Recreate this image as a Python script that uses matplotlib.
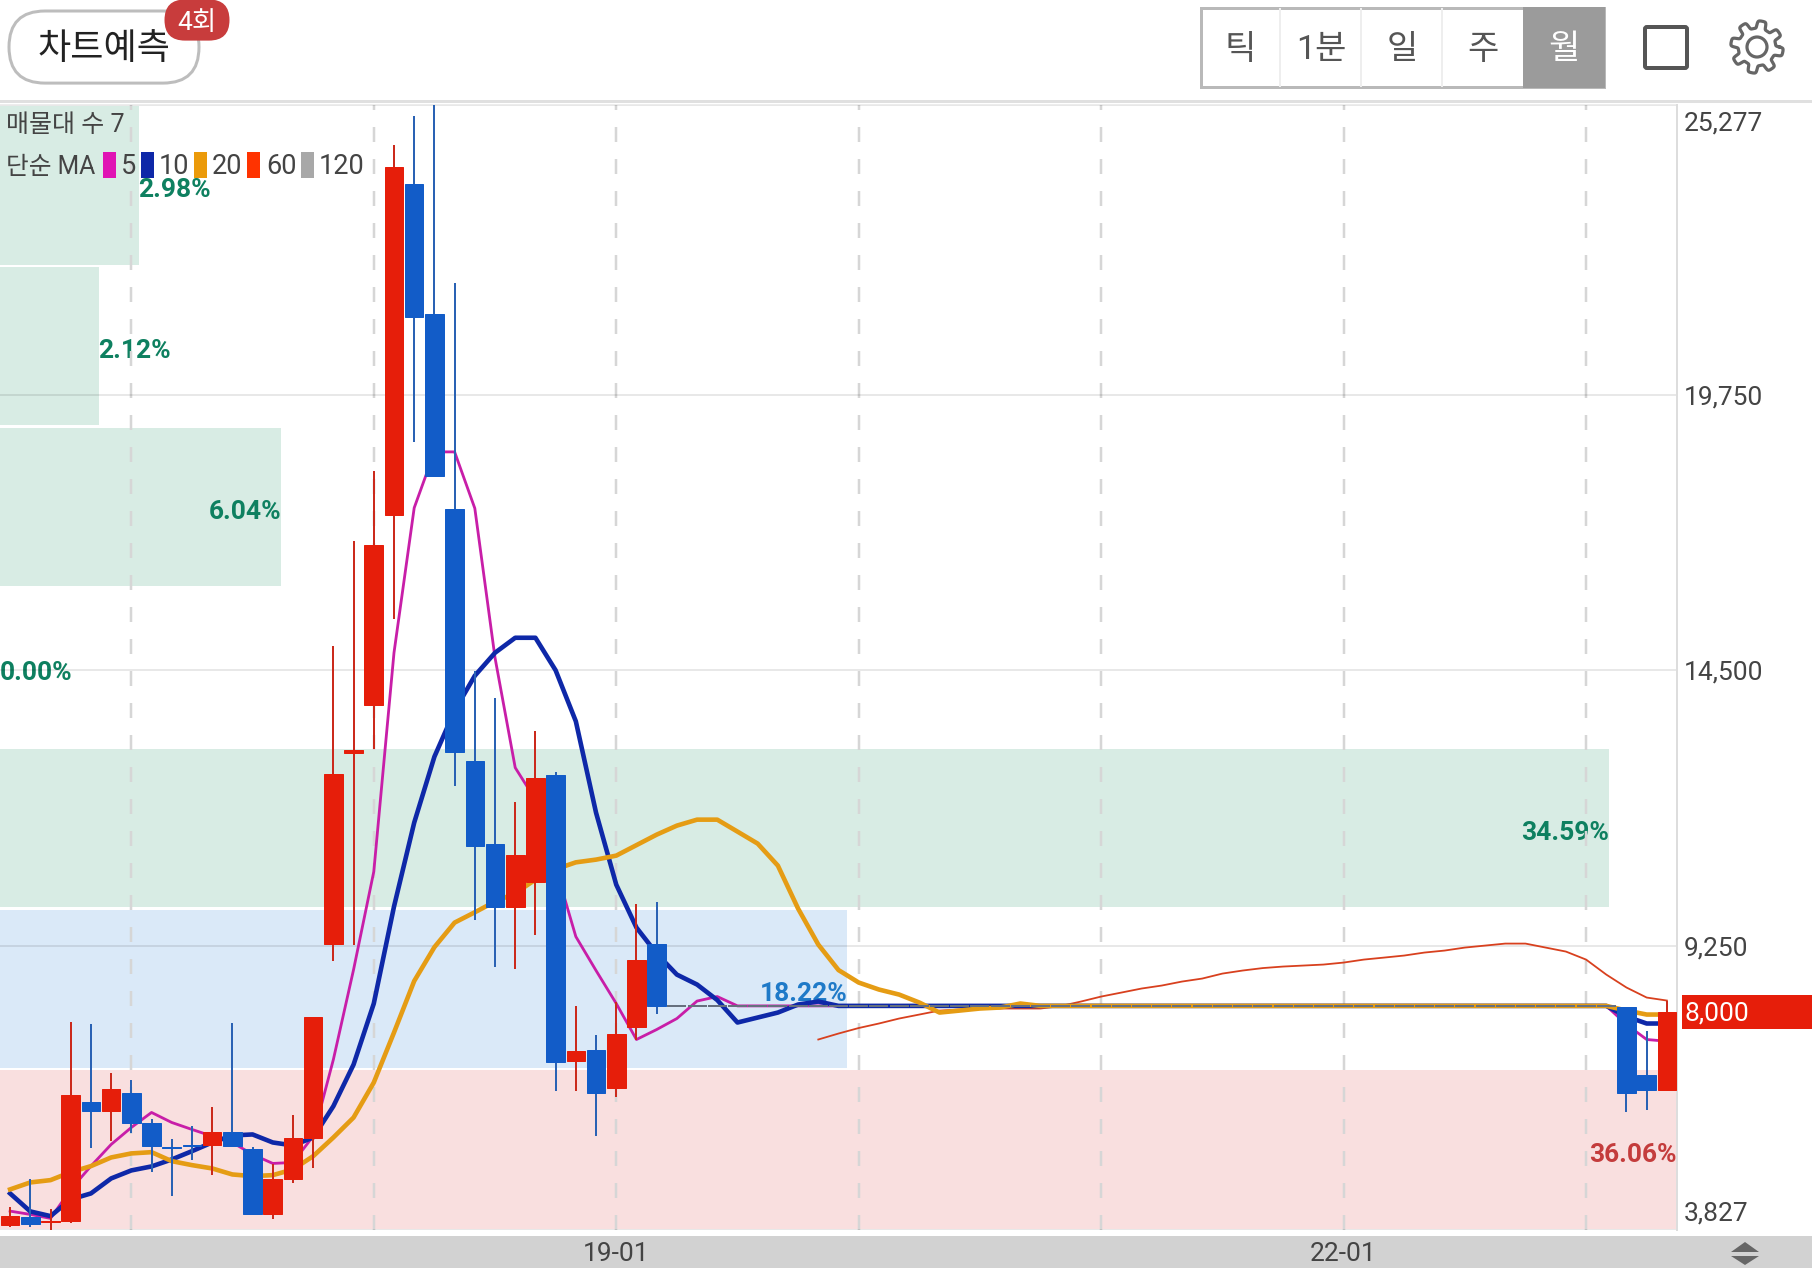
import numpy as np
import matplotlib
matplotlib.use("Agg")
import matplotlib.pyplot as plt
from matplotlib.patches import Rectangle, FancyBboxPatch, Polygon, Circle
from matplotlib.transforms import ScaledTranslation

plt.rcParams['font.family'] = ['Roboto', 'Noto Sans CJK KR', 'DejaVu Sans']

# monthly candles, index 0 = 2016-07, 30 = 2019-01, 66 = 2022-01
opens = [3915, 4073, 3977, 3991, 6264, 6093, 6443, 5872, 5414, 5439, 5439, 5687, 5363, 4137, 4791, 5586,
         9288, 12928, 13842, 17463, 23770, 21293, 17577, 12775, 11194, 9993, 10470, 12508, 7040, 7268,
         6544, 7707, 9288] + [8100] * 47 + [8088, 6773, 6487]
highs = [4271, 4791, 4233, 7788, 7758, 6824, 6678, 5934, 5567, 5807, 6176, 7777, 5401, 5077, 6016, 7884,
         14967, 16967, 18301, 24513, 25066, 25277, 21883, 14490, 13966, 11994, 13347, 12556, 8107, 7554,
         8183, 10050, 10088] + [8100] * 47 + [8088, 7630, 8202]
lows = [3890, 3890, 3830, 3953, 5395, 5521, 5681, 4930, 4473, 5159, 4881, 5420, 4118, 4042, 4715, 5014,
        8964, 9269, 13004, 15481, 18854, 18206, 12299, 9745, 8850, 8812, 9460, 6468, 6468, 5610,
        6354, 7459, 7954] + [8100] * 47 + [6068, 6106, 6487]
closes = [4092, 3934, 3997, 6392, 6093, 6506, 5872, 5420, 5395, 5420, 5687, 5420, 4137, 4791, 5578, 7884,
          12527, 12985, 16891, 24094, 21236, 18206, 12935, 11155, 9993, 10984, 12451, 7021, 7249, 6430,
          7573, 8983, 8107] + [8100] * 47 + [6430, 6487, 7992]

ma5 = [4187, 4124, 4048, 4601, 5045, 5458, 5782, 6068, 5877, 5744, 5616, 5496, 5268, 5096, 5115, 5616,
       7078, 8793, 10660, 14833, 17596, 18663, 18663, 17587, 14738, 12642, 12032, 10736, 9421, 8774,
       8145, 7459, 7649, 7859, 8192, 8278] + [8100] * 44 + [7745, 7459, 7426]
ma10 = [4524, 4181, 4092, 4410, 4524, 4810, 4963, 5039, 5172, 5330, 5496, 5630, 5649, 5496, 5439, 5591,
        6188, 6982, 8145, 9993, 11594, 12851, 13728, 14395, 14833, 15119, 15119, 14498, 13526, 11784,
        10412, 9593, 9098, 8697, 8507, 8211, 7783, 7878, 7973, 8126, 8183] + [8100] * 39 + [7897, 7764, 7764]
ma20 = [4601, 4734, 4778, 4930, 5045, 5210, 5287, 5311, 5140, 5064, 5001, 4886, 4854, 4873, 4982, 5235,
        5591, 5972, 6639, 7592, 8574, 9220, 9688, 9885, 10088, 10247, 10508, 10706, 10837, 10889,
        10965, 11165, 11365, 11537, 11651, 11651, 11423, 11194, 10774, 9955, 9269, 8783, 8545, 8412,
        8316, 8164, 7973, 8011, 8050, 8069, 8145, 8100] + [8100] * 28 + [8011, 7935, 7935]
ma60 = [7459, 7573, 7678, 7764, 7859, 7935, 8011, 8030, 8050, 8050, 8050, 8050, 8097, 8183, 8278, 8354,
        8431, 8488, 8564, 8621, 8716, 8774, 8821, 8850, 8869, 8888, 8926, 8983, 9021, 9060, 9117, 9155,
        9212, 9250, 9288, 9288, 9212, 9136, 8983, 8697, 8450, 8259, 8202]
ma60_start = 40

# volume profile, bottom band first
profile_pct = [36.06, 18.22, 34.59, 0.00, 6.04, 2.12, 2.98]
profile_fill = ['#F9DFDF', '#DAE9F8', '#D8ECE4', '#D8ECE4', '#D8ECE4', '#D8ECE4', '#D8ECE4']
profile_text = ['#C43C3C', '#1F7AC8', '#0E8060', '#0E8060', '#0E8060', '#0E8060', '#0E8060']

price_ticks = [3827, 9250, 14500, 19750, 25277]
price_labels = ['3,827', '9,250', '14,500', '19,750', '25,277']
year_ticks = [6, 18, 30, 42, 54, 66, 78]
year_labels = ['', '', '19-01', '', '', '22-01', '']

legend_names = ['5', '10', '20', '60', '120']
legend_colors = ['#E014B4', '#0E28A8', '#EB9A0A', '#FF3300', '#A8A8A8']
tabs = ['틱', '1분', '일', '주', '월']

PX = 0.72  # one pixel in points at dpi 100
UP = '#E61E0A'
DOWN = '#125CC8'
W, H = 1812, 1268

fig = plt.figure(figsize=(W / 100, H / 100), dpi=100, facecolor='white')


def pixel_axes(z):
    a = fig.add_axes([0, 0, 1, 1], zorder=z)
    a.set_xlim(0, W)
    a.set_ylim(H, 0)
    a.axis('off')
    return a


def nudge(label, dy_px):
    # move a tick label up or down by some pixels
    label.set_transform(label.get_transform() + ScaledTranslation(0, dy_px / 100, fig.dpi_scale_trans))


bg = pixel_axes(0)
fg = pixel_axes(5)

# chart area
rect = [0, (H - 1230) / H, 1677 / W, 1125 / H]
zones = fig.add_axes(rect, zorder=1)
ax = fig.add_axes(rect, zorder=2, sharey=zones)
ax.patch.set_visible(False)

# volume profile
edges = np.linspace(price_ticks[0], price_ticks[-1], len(profile_pct) + 1)
band = edges[1] - edges[0]
centers = edges[:-1] + band / 2
zones.barh(centers, profile_pct, height=band * 0.986, color=profile_fill, zorder=1)
zones.set_xlim(0, max(profile_pct))
zones.set_ylim(price_ticks[0], price_ticks[-1])
zones.set_xticks([])
zones.tick_params(left=False, labelleft=False)
for s in zones.spines.values():
    s.set_visible(False)
for c, pct, col in zip(centers, profile_pct, profile_text):
    narrow = pct < 5
    zones.annotate('%.2f%%' % pct, xy=(pct, c), xytext=(0, -5 * PX), textcoords='offset points',
                   color=col, fontsize=19, fontweight='bold',
                   ha='left' if narrow else 'right', va='center', zorder=3)

# moving averages under the candles
xs = np.arange(len(closes))
ax.plot(xs[ma60_start:], ma60, color='#D8401E', lw=1.8 * PX, zorder=3)
ax.plot(xs, ma5, color='#C81EA8', lw=2.8 * PX, zorder=3.1)
ax.plot(xs, ma10, color='#0E28A8', lw=4.6 * PX, zorder=3.2)
ax.plot(xs, ma20, color='#E59C14', lw=4.6 * PX, zorder=3.3)

# candles
for x, o, h, l, c in zip(xs, opens, highs, lows, closes):
    col = UP if c > o else DOWN
    if h == l:
        ax.hlines(o, x - 0.47, x + 0.47, color='#66707E', lw=2 * PX, zorder=4)
        continue
    wick = '#CB2A1C' if c > o else '#2A62B4'
    ax.vlines(x, l, h, color=wick, lw=2 * PX, zorder=4)
    ax.bar(x, abs(c - o), bottom=min(o, c), width=0.92, color=col, edgecolor=col, lw=1 * PX, zorder=5)

ax.set_xlim(-0.5, 82.5)
ax.set_ylim(price_ticks[0], price_ticks[-1])
ax.set_xticks(year_ticks, year_labels)
ax.set_yticks(price_ticks, price_labels)
ax.yaxis.tick_right()
ax.tick_params(axis='both', length=0, labelcolor='#444444')
ax.tick_params(axis='y', pad=7 * PX, labelsize=19)
ax.tick_params(axis='x', pad=12 * PX, labelsize=19)
ax.set_axisbelow(True)
ax.grid(axis='y', color='#000000', alpha=0.11, lw=1.6 * PX)
ax.grid(axis='x', color='#D6D6D6', lw=2.5 * PX, linestyle=(0, (6, 6.8)))
ylab = ax.get_yticklabels()
ylab[0].set_va('bottom')
ylab[-1].set_va('top')
nudge(ylab[0], 4)
nudge(ylab[-1], -7)
for s in ['top', 'left', 'bottom']:
    ax.spines[s].set_visible(False)
ax.spines['right'].set_color('#DDDDDD')
ax.spines['right'].set_linewidth(2 * PX)

# bottom strip and header rules
bg.add_patch(Rectangle((0, 1236), W, H - 1236, color='#D2D2D2', lw=0))
bg.add_patch(Rectangle((0, 100), W, 3, color='#E0E0E0', lw=0))
bg.add_patch(Rectangle((0, 104), 1677, 1.5, color='#EDEDED', lw=0))
bg.add_patch(Polygon([[1731, 1252], [1745, 1242], [1759, 1252]], color='#666666', lw=0))
bg.add_patch(Polygon([[1731, 1256], [1745, 1265], [1759, 1256]], color='#666666', lw=0))

# pill button and badge
fg.add_patch(FancyBboxPatch((9 + 36, 11 + 36), 190 - 72, 0.1, boxstyle='round,pad=36,rounding_size=36',
                            fc='white', ec='#BDBDBD', lw=3 * PX))
fg.text(104, 49, '차트예측', fontsize=26, color='#222222', ha='center', va='center')
fg.add_patch(FancyBboxPatch((165 + 20, 20), 64 - 40, 0.1, boxstyle='round,pad=20.5,rounding_size=20.5',
                            fc='#C83C3C', ec='none'))
fg.text(197, 23, '4회', fontsize=19, color='white', ha='center', va='center')

# period tabs
fg.add_patch(Rectangle((1201, 8), 403, 79, fc='white', ec='#B9B9B9', lw=3 * PX))
fg.add_patch(Rectangle((1523, 7), 82, 81, color='#9B9B9B', lw=0))
for xd in [1280, 1361, 1442]:
    fg.plot([xd, xd], [9, 86], color='#EEEEEE', lw=2 * PX)
for xc, t in zip([1240, 1321, 1402, 1483, 1564], tabs):
    fg.text(xc, 50, t, fontsize=24.5, color='white' if t == '월' else '#555555', ha='center', va='center')

# square and gear icons
fg.add_patch(FancyBboxPatch((1645, 27), 42, 41, boxstyle='round,pad=0,rounding_size=2',
                            fc='white', ec='#555555', lw=4 * PX))
theta = np.linspace(0, 2 * np.pi, 361)
radius = 22.5 + 3.8 * np.tanh(3 * np.sin(8 * theta))
fg.plot(1757 + radius * np.cos(theta), 47 + radius * np.sin(theta), color='#666666', lw=3.2 * PX)
fg.add_patch(Circle((1757, 47), 10, fc='none', ec='#666666', lw=3.2 * PX))

# legend
fg.text(6, 125, '매물대 수 7', fontsize=18, color='#444444', ha='left', va='center')
fg.text(6, 167, '단순 MA', fontsize=17.8, color='#444444', ha='left', va='center')
for xs0, xt, name, col in zip([103, 141, 194, 247, 301], [121, 159, 212, 266, 319], legend_names, legend_colors):
    fg.add_patch(Rectangle((xs0, 152), 13, 26, color=col, lw=0))
    fg.text(xt, 166, name, fontsize=19.5, color='#444444', ha='left', va='center')

# last price tag
fg.add_patch(Rectangle((1682, 995), W - 1682, 34, color=UP, lw=0))
fg.text(1684, 1013, '8,000', fontsize=19, color='white', ha='left', va='center')

fig.savefig('out.png', dpi=100)
